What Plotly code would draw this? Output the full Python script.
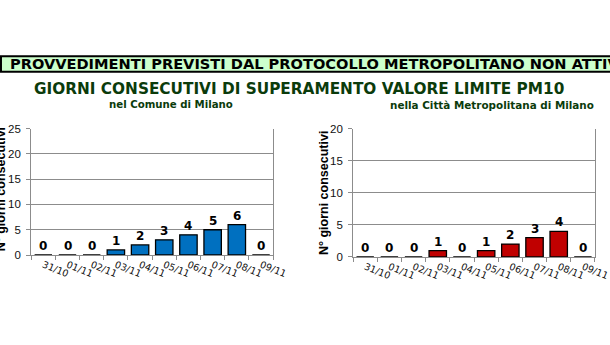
import plotly.graph_objects as go

# Dates on the category axis and consecutive exceedance days for each area
dates = ["31/10", "01/11", "02/11", "03/11", "04/11", "05/11", "06/11", "07/11", "08/11", "09/11"]
milano_comune = [0, 0, 0, 1, 2, 3, 4, 5, 6, 0]
milano_metro = [0, 0, 0, 1, 0, 1, 2, 3, 4, 0]

banner_text = "PROVVEDIMENTI PREVISTI DAL PROTOCOLLO METROPOLITANO NON ATTIVI"
main_title = "GIORNI CONSECUTIVI DI SUPERAMENTO VALORE LIMITE PM10"
sub_left = "nel Comune di Milano"
sub_right = "nella Città Metropolitana di Milano"
y_title = "N° giorni consecutivi"

W, H = 610, 345


def px(x):
    return x / W


def py(y):
    return 1 - y / H


GRID = "#8c8c8c"
DARK_GREEN = "#0b3b0b"

fig = go.Figure()
fig.add_trace(go.Bar(x=dates, y=milano_comune, xaxis="x", yaxis="y", width=0.72,
                     marker=dict(color="#0070c0", line=dict(color="#000000", width=1.3)),
                     hoverinfo="x+y"))
fig.add_trace(go.Bar(x=dates, y=milano_metro, xaxis="x2", yaxis="y2", width=0.72,
                     marker=dict(color="#c00000", line=dict(color="#000000", width=1.3)),
                     hoverinfo="x+y"))

xcommon = dict(type="category", showgrid=False, showline=True, linecolor=GRID, linewidth=1,
               ticks="outside", tickson="boundaries", ticklen=4, tickcolor=GRID,
               tickangle=22, tickfont=dict(family="DejaVu Sans", size=9.5, color="#111111"),
               fixedrange=True)
ycommon = dict(showgrid=True, gridcolor=GRID, gridwidth=1, showline=True, linecolor=GRID,
               linewidth=1, mirror=True, ticks="outside", ticklen=4, tickcolor=GRID,
               zeroline=False, tickfont=dict(family="Liberation Sans, Arial", size=11.5, color="#111111"),
               ticklabelstandoff=3, fixedrange=True)

fig.update_layout(
    width=W, height=H, margin=dict(l=0, r=0, t=0, b=0),
    paper_bgcolor="white", plot_bgcolor="white", showlegend=False, bargap=0.28,
    xaxis=dict(domain=[px(32), px(280)], anchor="y", **xcommon),
    yaxis=dict(domain=[py(258), py(127)], anchor="x", range=[0, 25], dtick=5, **ycommon),
    xaxis2=dict(domain=[px(362), 1.0], anchor="y2", **xcommon),
    yaxis2=dict(domain=[py(260), py(127)], anchor="x2", range=[0, 20], dtick=5, **ycommon),
)

# Banner strip across the top
fig.add_shape(type="rect", xref="paper", yref="paper", x0=px(1), x1=1.05, y0=py(68), y1=py(52),
              fillcolor="#ccffcc", line=dict(color="#000000", width=2), layer="below")

annotations = [
    dict(text="<b>" + banner_text + "</b>", x=px(8), y=py(60), xanchor="left", yanchor="middle",
         font=dict(family="DejaVu Sans", size=14.6, color="#000000")),
    dict(text="<b>" + main_title + "</b>", x=px(306.5), y=py(86.5), xanchor="center", yanchor="middle",
         font=dict(family="DejaVu Sans", size=15.3, color=DARK_GREEN)),
    dict(text="<b>" + sub_left + "</b>", x=px(175.5), y=py(102.5), xanchor="center", yanchor="middle",
         font=dict(family="DejaVu Sans", size=10.2, color=DARK_GREEN)),
    dict(text="<b>" + sub_right + "</b>", x=px(504), y=py(102.5), xanchor="center", yanchor="middle",
         font=dict(family="DejaVu Sans", size=10.4, color=DARK_GREEN)),
    dict(text="<b>" + y_title + "</b>", x=px(1), y=py(190), xanchor="center", yanchor="middle",
         textangle=-90, font=dict(family="Liberation Sans, Arial", size=12.5, color="#000000")),
    dict(text="<b>" + y_title + "</b>", x=px(332), y=py(194), xanchor="center", yanchor="middle",
         textangle=-90, font=dict(family="Liberation Sans, Arial", size=12.5, color="#000000")),
]
for a in annotations:
    a.update(xref="paper", yref="paper", showarrow=False)

# Value labels above each bar
for xa, ya, vals in (("x", "y", milano_comune), ("x2", "y2", milano_metro)):
    for d, v in zip(dates, vals):
        annotations.append(dict(text="<b>%d</b>" % v, x=d, y=v, xref=xa, yref=ya,
                                xanchor="center", yanchor="bottom", yshift=0, showarrow=False,
                                font=dict(family="DejaVu Sans", size=12, color="#000000")))

fig.update_layout(annotations=annotations)
fig.write_html("out.html")
